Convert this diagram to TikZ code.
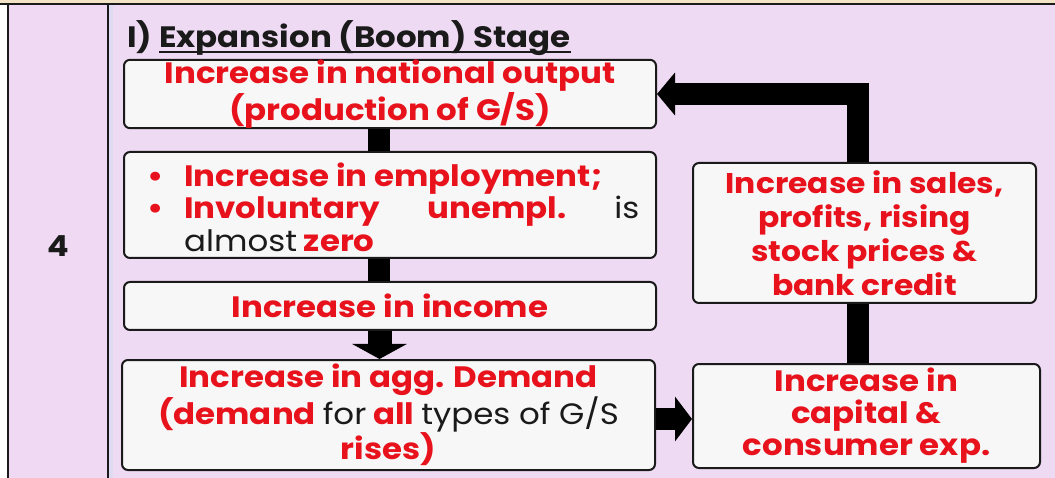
\documentclass[tikz,border=0pt]{standalone}
\usepackage{fontspec}
\setmainfont{Poppins}[FakeStretch=1.1]
\usetikzlibrary{arrows.meta}
\definecolor{rd}{HTML}{E8121C}
\definecolor{txt}{HTML}{1A1A1A}
\definecolor{cellL}{HTML}{EFD9F3}
\definecolor{cellR}{HTML}{EEDAF3}
\definecolor{topbg}{HTML}{F2E3C6}
\definecolor{stripc}{HTML}{DEDBF3}
\definecolor{boxfill}{HTML}{F7F7F7}
\newcommand\ulx[1]{\setbox0\hbox{#1}\rlap{\rule[-5pt]{\wd0}{2pt}}\box0}
\newcommand\nb[1]{{\mdseries\color{txt}#1}}
\begin{document}
\begin{tikzpicture}[x=1pt,y=-1pt,
  box/.style={draw=txt, line width=2pt, rounded corners=6pt, fill=boxfill,
    inner sep=0pt, align=center, text=rd,
    font=\bfseries\fontsize{29.5}{30.5}\selectfont},
  bar/.style={line width=22pt, draw=black}]
\useasboundingbox (0,0) rectangle (1055,478);
\fill[white] (0,0) rectangle (1055,478);
\fill[topbg] (0,0) rectangle (1055,4);
\fill[cellL] (8,4) rectangle (108,478);
\fill[cellR] (108,4) rectangle (1055,478);
\fill[stripc] (109,4) rectangle (113,478);
\draw[line width=2pt, txt] (0,4) -- (1055,4);
\draw[line width=2pt, txt] (8,4) -- (8,478);
\draw[line width=2pt, txt] (108,4) -- (108,478);

\node[font=\bfseries\fontsize{29}{29}\selectfont, text=txt] (num) at (58,246) {4};
\node[anchor=base west, inner sep=0pt, font=\bfseries\fontsize{29.5}{30}\selectfont, text=txt] (title) at (127,48) {I) \ulx{Expansion (Boom) Stage}};

\node[box, minimum width=532pt, minimum height=68pt] (A) at (390,94) {Increase in national output\\(production of G/S)};
\node[box, minimum width=532pt, minimum height=106pt] (B) at (390,205) {};
\node[anchor=west, inner sep=0pt, align=left, text=rd, font=\bfseries\fontsize{29.5}{32.5}\selectfont] (Bt) at ([xshift=24pt,yshift=-2pt]B.west)
  {\makebox[37pt][l]{•}Increase in employment;\\
   \makebox[37pt][l]{•}\makebox[455pt][s]{Involuntary\hfill unempl.\hfill \nb{is}}\\
   \hspace*{37pt}\nb{almost} zero};
\node[box, minimum width=532pt, minimum height=48pt] (C) at (390,306) {Increase in income};
\node[box, minimum width=533pt, minimum height=110pt, font=\bfseries\fontsize{29.5}{31}\selectfont] (D) at (388.5,415) {Increase in agg. Demand\\(demand \nb{for} all \nb{types of G/S}\\rises)};
\node[box, minimum width=347pt, minimum height=104pt, font=\bfseries\fontsize{29.5}{32}\selectfont] (E) at (866.5,416) {Increase in\\capital \&\\consumer exp.};
\node[box, minimum width=343pt, minimum height=140pt, font=\bfseries\fontsize{28.5}{34}\selectfont] (F) at (864.5,233) {Increase in sales,\\profits, rising\\stock prices \&\\bank credit};

\draw[bar] ([xshift=-11pt]A.south) -- ([xshift=-11pt]B.north);
\draw[bar] ([xshift=-11pt]B.south) -- ([xshift=-11pt]C.north);
\draw[bar, line width=24pt, -{Triangle[width=54pt,length=15pt]}] ([xshift=-10.5pt]C.south) -- ([xshift=-9pt]D.north);
\draw[bar, -{Triangle[width=44pt,length=17pt]}] ([yshift=-4pt]D.east) -- ([yshift=-4pt]D.east -| E.west);
\draw[bar] ([xshift=-9pt]E.north) -- ([xshift=-7pt]F.south);
\draw[bar, -{Triangle[width=42pt,length=18pt]}] ([xshift=-7pt]F.north) |- (A.east);
\end{tikzpicture}
\end{document}
